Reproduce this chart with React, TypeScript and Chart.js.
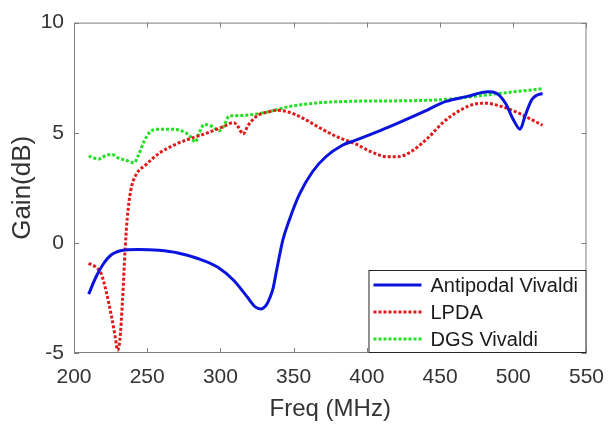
import React, { useEffect, useRef } from "react";
import { Chart, registerables } from "chart.js";

Chart.register(...registerables);

const xTicks = [200, 250, 300, 350, 400, 450, 500, 550];
const yTicks = [-5, 0, 5, 10];

const antipodalX = [210, 215, 220, 226, 235, 244, 258, 271, 284, 298, 309, 318, 324, 327.5, 331.5, 333.7, 336, 338.2, 342.7, 347, 354, 363, 372, 383, 392, 400, 414, 437, 454, 468, 483, 488, 494.7, 500, 504.7, 508, 512.5, 516, 520];
const antipodalY = [-2.33, -1.55, -0.96, -0.52, -0.32, -0.3, -0.34, -0.46, -0.7, -1.1, -1.7, -2.43, -2.92, -3.0, -2.8, -2.5, -2.05, -1.3, 0.15, 1.03, 2.21, 3.24, 3.91, 4.42, 4.65, 4.86, 5.23, 5.9, 6.42, 6.64, 6.86, 6.81, 6.34, 5.6, 5.16, 5.75, 6.49, 6.7, 6.78];

const lpdaX = [210, 215, 218.6, 222, 225.3, 228.2, 229.7, 231.3, 233.1, 234.9, 236.4, 238.7, 242, 249, 258, 269, 280, 291, 302, 309, 312.5, 315.4, 319, 324.7, 333, 338, 347, 358, 369.5, 380.6, 392, 403, 414, 421, 430, 441, 452, 459, 472, 481, 490, 501, 510, 520];
const lpdaY = [-0.93, -1.11, -1.4, -2.21, -3.24, -4.28, -4.87, -4.42, -2.65, -0.3, 1.15, 2.36, 3.05, 3.54, 4.06, 4.46, 4.75, 4.99, 5.28, 5.46, 5.23, 4.94, 5.34, 5.75, 5.95, 6.02, 5.93, 5.6, 5.16, 4.79, 4.5, 4.13, 3.91, 3.91, 4.13, 4.72, 5.46, 5.83, 6.27, 6.34, 6.23, 5.97, 5.68, 5.34];

const dgsX = [210, 217, 222, 226, 230, 235, 241, 244, 247.6, 252, 258, 267, 276, 280, 282.7, 285.6, 289, 294.6, 299, 302.4, 305.8, 313.6, 322.5, 334, 347, 369.5, 392, 425, 445, 457, 468, 490, 520];
const dgsY = [3.94, 3.81, 3.98, 4.01, 3.86, 3.76, 3.64, 3.98, 4.57, 5.04, 5.16, 5.16, 5.01, 4.79, 4.57, 5.01, 5.38, 5.28, 5.09, 5.31, 5.75, 5.78, 5.83, 5.97, 6.19, 6.37, 6.43, 6.45, 6.48, 6.53, 6.61, 6.78, 7.0];

const FONT = "'Liberation Sans', Arial, sans-serif";
const AXIS_COLOR = "#7f7f7f";
const TEXT_COLOR = "#333333";

const toPoints = (xs: number[], ys: number[]) => xs.map((x, i) => ({ x, y: ys[i] }));

const boxPlugin = {
  id: "matlabBox",
  afterDatasetsDraw(chart: any) {
    const { ctx, chartArea, scales } = chart;
    const { left, right, top, bottom } = chartArea;
    ctx.save();
    ctx.strokeStyle = AXIS_COLOR;
    ctx.lineWidth = 1;
    ctx.beginPath();
    ctx.rect(left + 0.5, top + 0.5, right - left - 1, bottom - top - 1);
    ctx.stroke();
    const tl = 5;
    ctx.beginPath();
    xTicks.forEach((v) => {
      const px = Math.round(scales.x.getPixelForValue(v)) + 0.5;
      ctx.moveTo(px, bottom);
      ctx.lineTo(px, bottom - tl);
      ctx.moveTo(px, top);
      ctx.lineTo(px, top + tl);
    });
    yTicks.forEach((v) => {
      const py = Math.round(scales.y.getPixelForValue(v)) + 0.5;
      ctx.moveTo(left, py);
      ctx.lineTo(left + tl, py);
      ctx.moveTo(right, py);
      ctx.lineTo(right - tl, py);
    });
    ctx.stroke();

    // legend
    const lw = 218;
    const lh = 83;
    const lx = right - lw;
    const ly = bottom - lh;
    ctx.fillStyle = "#ffffff";
    ctx.fillRect(lx, ly, lw, lh);
    ctx.strokeStyle = "#262626";
    ctx.lineWidth = 1;
    ctx.strokeRect(lx + 0.5, ly + 0.5, lw - 1, lh - 1);
    ctx.font = `20px ${FONT}`;
    ctx.textBaseline = "middle";
    ctx.textAlign = "left";
    chart.data.datasets.forEach((ds: any, i: number) => {
      const yy = ly + 15 + i * 27;
      ctx.save();
      ctx.strokeStyle = ds.borderColor;
      ctx.lineWidth = ds.borderWidth;
      ctx.setLineDash(ds.borderDash || []);
      ctx.beginPath();
      ctx.moveTo(lx + 5, yy);
      ctx.lineTo(lx + 53, yy);
      ctx.stroke();
      ctx.restore();
      ctx.fillStyle = "#1a1a1a";
      ctx.fillText(ds.label, lx + 62, yy + 1);
    });
    ctx.restore();
  },
};

export default function App() {
  const ref = useRef<HTMLCanvasElement>(null);
  useEffect(() => {
    document.body.style.margin = "0";
    const canvas = ref.current;
    if (!canvas) return;
    const chart = new Chart(canvas, {
      type: "line",
      data: {
        datasets: [
          {
            label: "Antipodal Vivaldi",
            data: toPoints(antipodalX, antipodalY),
            borderColor: "#0a14dc",
            borderWidth: 3,
            pointRadius: 0,
            cubicInterpolationMode: "monotone",
            fill: false,
          },
          {
            label: "LPDA",
            data: toPoints(lpdaX, lpdaY),
            borderColor: "#e01a1a",
            borderWidth: 3,
            borderDash: [3, 2],
            pointRadius: 0,
            cubicInterpolationMode: "monotone",
            fill: false,
          },
          {
            label: "DGS Vivaldi",
            data: toPoints(dgsX, dgsY),
            borderColor: "#22e022",
            borderWidth: 3,
            borderDash: [3, 2],
            pointRadius: 0,
            cubicInterpolationMode: "monotone",
            fill: false,
          },
        ],
      },
      options: {
        animation: false,
        responsive: false,
        maintainAspectRatio: false,
        layout: { padding: { left: 0, right: 20, top: 14, bottom: 0 } },
        plugins: {
          legend: { display: false },
          tooltip: { enabled: false },
        },
        scales: {
          x: {
            type: "linear",
            min: 200,
            max: 550,
            afterBuildTicks: (s: any) => {
              s.ticks = xTicks.map((v) => ({ value: v }));
            },
            afterFit: (s: any) => {
              s.height = 71;
            },
            grid: { display: false, drawTicks: false },
            border: { display: false },
            ticks: {
              color: TEXT_COLOR,
              font: { family: FONT, size: 21 },
              padding: 12,
              maxRotation: 0,
              autoSkip: false,
            },
            title: {
              display: true,
              text: "Freq (MHz)",
              color: TEXT_COLOR,
              font: { family: FONT, size: 24 },
              padding: { top: 0, bottom: 0 },
            },
          },
          y: {
            type: "linear",
            min: -5,
            max: 10,
            afterBuildTicks: (s: any) => {
              s.ticks = yTicks.map((v) => ({ value: v }));
            },
            afterFit: (s: any) => {
              s.width = 74;
            },
            grid: { display: false, drawTicks: false },
            border: { display: false },
            ticks: {
              color: TEXT_COLOR,
              font: { family: FONT, size: 21 },
              padding: 10,
              autoSkip: false,
            },
            title: {
              display: true,
              text: "Gain(dB)",
              color: TEXT_COLOR,
              font: { family: FONT, size: 26 },
              padding: { top: 7, bottom: 0 },
            },
          },
        },
      },
      plugins: [boxPlugin],
    });
    return () => chart.destroy();
  }, []);
  return (
    <div style={{ width: 616, height: 424 }}>
      <canvas ref={ref} width={616} height={424} style={{ display: "block" }} />
    </div>
  );
}
